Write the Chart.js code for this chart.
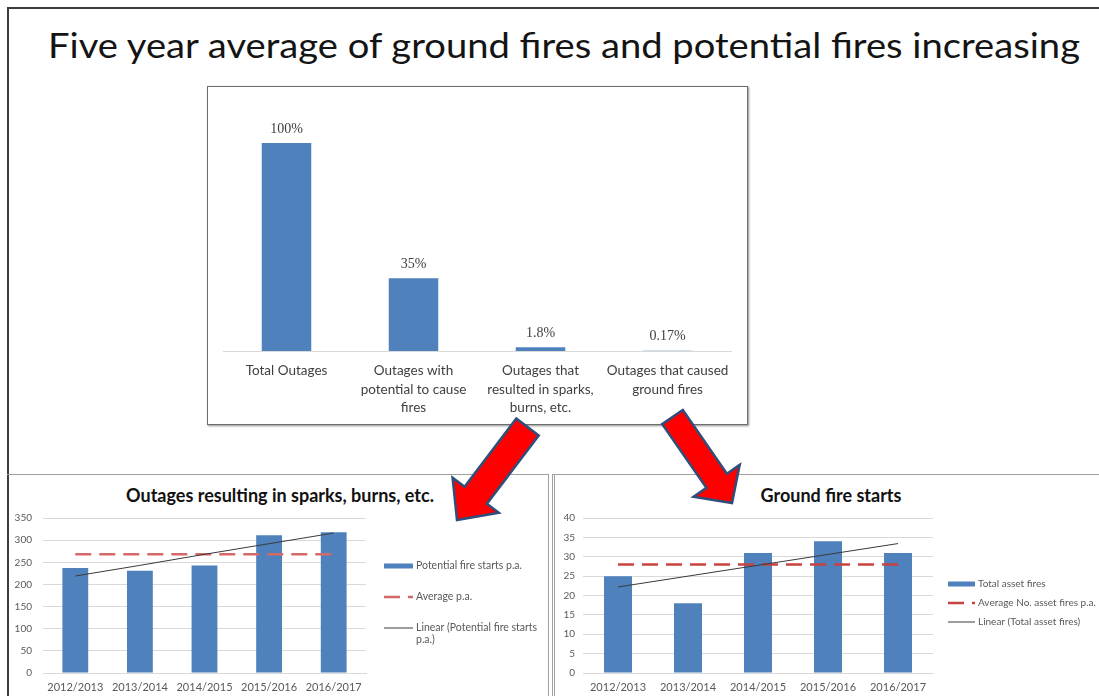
<!DOCTYPE html>
<html>
<head>
<meta charset="utf-8">
<script src="https://cdn.jsdelivr.net/npm/chart.js@4.4.1/dist/chart.umd.min.js"></script>
<style>
  html, body { margin: 0; padding: 0; background: #fff; }
  body { width: 1099px; height: 696px; position: relative; overflow: hidden; font-family: Lato, "Open Sans", sans-serif; }
  .slide { position: absolute; left: 7px; top: 7px; width: 1200px; height: 800px; border: 2px solid #3c3c3c; }
  .headline { position: absolute; left: 48px; top: 25px; line-height: 40px; font-size: 34px; color: #141414; white-space: nowrap; transform-origin: left top; }
  .box { position: absolute; left: 207px; top: 86px; width: 539px; height: 337px; border: 1px solid #6e6e6e; box-shadow: 1px 1px 2px rgba(0, 0, 0, 0.45); background: #fff; }
  .panel-left { position: absolute; left: 7px; top: 474px; width: 541px; height: 240px; border-top: 1px solid #a0a0a0; border-right: 1px solid #a0a0a0; }
  .panel-right { position: absolute; left: 552px; top: 474px; width: 600px; height: 240px; border-top: 1px solid #a0a0a0; border-left: 3px double #a0a0a0; }
  .subtitle { position: absolute; top: 484px; line-height: 22px; font-size: 18px; font-weight: bold; color: #111; text-align: center; white-space: nowrap; }
  canvas { position: absolute; }
  svg { position: absolute; left: 0; top: 0; pointer-events: none; }
</style>
</head>
<body>
<div class="slide"></div>
<span class="headline" id="headline">Five year average of ground fires and potential fires increasing</span>

<div class="box"><canvas id="topChart" width="539" height="337" style="left:0;top:0;width:539px;height:337px"></canvas></div>

<div class="panel-left"></div>
<div class="panel-right"></div>
<div class="subtitle" style="left:80px;width:400px">Outages resulting in sparks, burns, etc.</div>
<div class="subtitle" style="left:631px;width:400px">Ground fire starts</div>
<canvas id="sparksChart" width="539" height="220" style="left:9px;top:476px;width:539px;height:220px"></canvas>
<canvas id="groundChart" width="543" height="220" style="left:556px;top:476px;width:543px;height:220px"></canvas>

<svg width="1099" height="696">
  <polygon id="arrowLeft" fill="#ff0000" stroke="#2f4e7a" stroke-width="2.5" stroke-linejoin="miter"></polygon>
  <polygon id="arrowRight" fill="#ff0000" stroke="#2f4e7a" stroke-width="2.5" stroke-linejoin="miter"></polygon>
</svg>

<script>
/* global Chart */

// funnel of outages, share of total (%)
const outageCategories = [
  'Total Outages',
  ['Outages with', 'potential to cause', 'fires'],
  ['Outages that', 'resulted in sparks,', 'burns, etc.'],
  ['Outages that caused', 'ground fires'],
];
const outageShares = [100, 35, 1.8, 0.17];

// yearly series for the two lower charts
const years = ['2012/2013', '2013/2014', '2014/2015', '2015/2016', '2016/2017'];

const potentialStarts = [237, 231, 243, 311, 318];
const potentialAverage = [268, 268, 268, 268, 268];
const potentialTrend = [219, 243, 268, 292, 316];
const potentialTicks = [0, 50, 100, 150, 200, 250, 300, 350];

const assetFires = [25, 18, 31, 34, 31];
const assetAverage = [28, 28, 28, 28, 28];
const assetTrend = [22.2, 25, 27.8, 30.6, 33.4];
const assetTicks = [0, 5, 10, 15, 20, 25, 30, 35, 40];

const BLUE = '#4f81bd';
const GRID = '#d9d9d9';
const TEXT = '#595959';

Chart.defaults.font.family = 'Lato, "Open Sans", sans-serif';
Chart.defaults.animation = false;

function fitHeadline() {
  const el = document.getElementById('headline');
  const w = el.getBoundingClientRect().width;
  el.style.transform = `scaleX(${1032 / w})`;
}

function arrowPoints(sx, sy, tx, ty, shaftHalf, headHalf, headLen) {
  const len = Math.hypot(tx - sx, ty - sy);
  const ux = (tx - sx) / len;
  const uy = (ty - sy) / len;
  const px = -uy;
  const py = ux;
  const bx = tx - ux * headLen;
  const by = ty - uy * headLen;
  const pts = [
    [sx + px * shaftHalf, sy + py * shaftHalf],
    [bx + px * shaftHalf, by + py * shaftHalf],
    [bx + px * headHalf, by + py * headHalf],
    [tx, ty],
    [bx - px * headHalf, by - py * headHalf],
    [bx - px * shaftHalf, by - py * shaftHalf],
    [sx - px * shaftHalf, sy - py * shaftHalf],
  ];
  return pts.map((p) => p.map((v) => v.toFixed(1)).join(',')).join(' ');
}

function drawArrows() {
  document.getElementById('arrowLeft').setAttribute('points', arrowPoints(527.5, 427, 457, 520, 14, 29, 31));
  document.getElementById('arrowRight').setAttribute('points', arrowPoints(672.5, 417, 732, 503, 12.5, 28, 27));
}

// percentage written above each bar
const valueLabels = {
  id: 'valueLabels',
  afterDatasetsDraw(chart) {
    const { ctx } = chart;
    const meta = chart.getDatasetMeta(0);
    ctx.save();
    ctx.font = '14px "Liberation Serif", serif';
    ctx.fillStyle = '#404040';
    ctx.textAlign = 'center';
    ctx.textBaseline = 'middle';
    meta.data.forEach((bar, i) => {
      ctx.fillText(`${outageShares[i]}%`, bar.x, bar.y - 14);
    });
    ctx.restore();
  },
};

// legend drawn to the right of the plot, one row per dataset
const sideLegend = {
  id: 'sideLegend',
  afterDraw(chart, args, opts) {
    const { ctx } = chart;
    ctx.save();
    ctx.font = `${opts.fontSize}px Lato, sans-serif`;
    ctx.textBaseline = 'middle';
    ctx.textAlign = 'left';
    chart.data.datasets.forEach((ds, i) => {
      const y = opts.rows[i];
      const x0 = opts.x;
      if (ds.type === 'line') {
        ctx.strokeStyle = ds.borderColor;
        ctx.lineWidth = ds.borderWidth;
        ctx.setLineDash(ds.borderDash || []);
        ctx.beginPath();
        ctx.moveTo(x0, y);
        ctx.lineTo(x0 + opts.sample, y);
        ctx.stroke();
        ctx.setLineDash([]);
      } else {
        ctx.fillStyle = ds.backgroundColor;
        ctx.fillRect(x0, y - 2.5, opts.sample, 5);
      }
      // simple word wrap
      const words = ds.label.split(' ');
      const lines = [];
      let line = '';
      words.forEach((w) => {
        const test = line ? `${line} ${w}` : w;
        if (ctx.measureText(test).width > opts.maxWidth && line) {
          lines.push(line);
          line = w;
        } else {
          line = test;
        }
      });
      lines.push(line);
      ctx.fillStyle = TEXT;
      lines.forEach((l, j) => ctx.fillText(l, x0 + opts.sample + 3, y + j * 12));
    });
    ctx.restore();
  },
};

function outageFunnelChart() {
  const config = {
    type: 'bar',
    data: {
      labels: outageCategories,
      datasets: [{
        data: outageShares,
        backgroundColor: BLUE,
        barPercentage: 0.39,
        categoryPercentage: 1,
      }],
    },
    options: {
      responsive: false,
      layout: { padding: { left: 15, right: 16, top: 56, bottom: 0 } },
      plugins: { legend: { display: false }, tooltip: { enabled: false } },
      scales: {
        x: {
          grid: { display: false, drawTicks: false },
          border: { color: GRID, width: 1 },
          ticks: { color: '#404040', padding: 11, maxRotation: 0, autoSkip: false, font: { size: 13.5, lineHeight: 1.35 } },
          afterFit: (scale) => { scale.height = 73; },
        },
        y: { display: false, min: 0, max: 100 },
      },
    },
    plugins: [valueLabels],
  };
  return new Chart(document.getElementById('topChart'), config);
}

function yearlyChart(canvasId, opts) {
  const config = {
    type: 'bar',
    data: {
      labels: years,
      datasets: [
        {
          type: 'bar',
          label: opts.barLabel,
          data: opts.bars,
          backgroundColor: BLUE,
          barPercentage: 0.4,
          categoryPercentage: 1,
          order: 3,
        },
        {
          type: 'line',
          label: opts.avgLabel,
          data: opts.average,
          borderColor: opts.avgColor,
          borderWidth: 2.5,
          borderDash: [16, 8],
          pointRadius: 0,
          order: 2,
        },
        {
          type: 'line',
          label: opts.trendLabel,
          data: opts.trend,
          borderColor: '#3a3a3a',
          borderWidth: 1,
          pointRadius: 0,
          order: 1,
        },
      ],
    },
    options: {
      responsive: false,
      layout: { padding: { left: 0, right: opts.rightPad, top: 42, bottom: 0 } },
      plugins: {
        legend: { display: false },
        tooltip: { enabled: false },
        sideLegend: opts.legend,
      },
      scales: {
        x: {
          grid: { display: false, drawTicks: false },
          border: { color: GRID, width: 1 },
          ticks: { color: TEXT, padding: 8, maxRotation: 0, autoSkip: false, font: { size: 11 } },
          afterFit: (scale) => { scale.height = 23; },
        },
        y: {
          min: 0,
          max: opts.ticks[opts.ticks.length - 1],
          grid: { color: GRID, drawTicks: false },
          border: { display: false },
          ticks: { color: TEXT, padding: opts.tickPad, font: { size: 10 } },
          afterBuildTicks: (scale) => { scale.ticks = opts.ticks.map((v) => ({ value: v })); },
          afterFit: (scale) => { scale.width = opts.axisWidth; },
        },
      },
    },
    plugins: [sideLegend],
  };
  return new Chart(document.getElementById(canvasId), config);
}

function initialize() {
  fitHeadline();
  drawArrows();
  outageFunnelChart();

  yearlyChart('sparksChart', {
    bars: potentialStarts,
    average: potentialAverage,
    trend: potentialTrend,
    ticks: potentialTicks,
    barLabel: 'Potential fire starts p.a.',
    avgLabel: 'Average p.a.',
    trendLabel: 'Linear (Potential fire starts p.a.)',
    avgColor: '#d46a67',
    rightPad: 182,
    axisWidth: 34,
    tickPad: 11,
    legend: { x: 375, sample: 29, rows: [90, 121, 152], maxWidth: 126, fontSize: 10.5 },
  });

  yearlyChart('groundChart', {
    bars: assetFires,
    average: assetAverage,
    trend: assetTrend,
    ticks: assetTicks,
    barLabel: 'Total asset fires',
    avgLabel: 'Average No. asset fires p.a.',
    trendLabel: 'Linear (Total asset fires)',
    avgColor: '#c8423f',
    rightPad: 166,
    axisWidth: 27,
    tickPad: 8,
    legend: { x: 392, sample: 27, rows: [108, 127, 146], maxWidth: 150, fontSize: 10 },
  });
}

document.addEventListener('DOMContentLoaded', initialize);
</script>
</body>
</html>
